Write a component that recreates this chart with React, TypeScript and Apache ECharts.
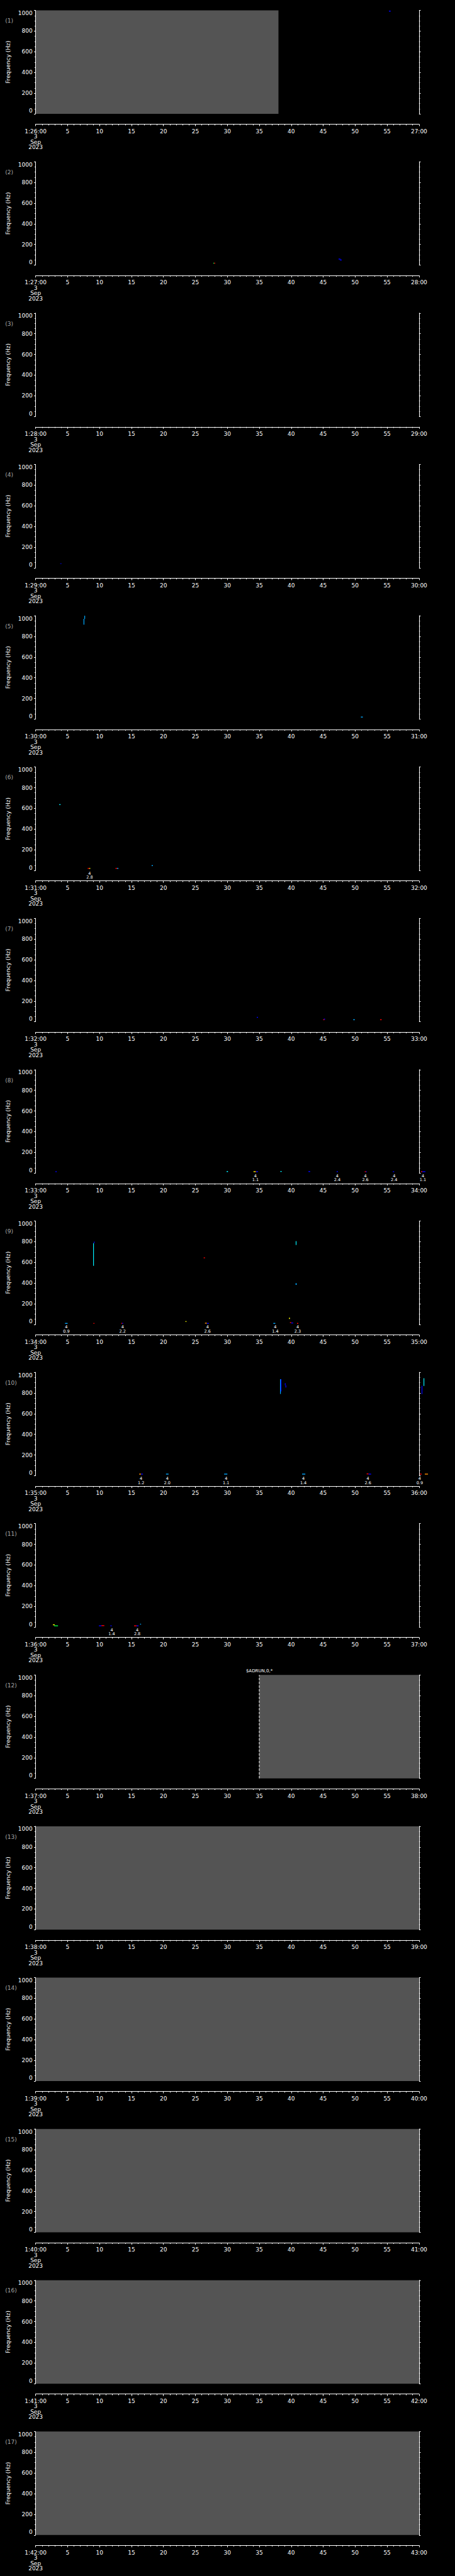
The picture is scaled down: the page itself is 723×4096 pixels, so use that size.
import React, { useEffect, useRef } from "react";
import * as echarts from "echarts";

// ---------- data ----------
const startMinutes = [26, 27, 28, 29, 30, 31, 32, 33, 34, 35, 36, 37, 38, 39, 40, 41, 42];
const dateLines = ["3", "Sep", "2023"];
const freqRange = [0, 1000];
const timeRange = [0, 60];

// grey "no data" areas: [panel, tStart, tEnd]
const greyAreas = [
  [1, 0, 38],
  [12, 35, 60],
  [13, 0, 60],
  [14, 0, 60],
  [15, 0, 60],
  [16, 0, 60],
  [17, 0, 60],
];

// colour codes
const palette: Record<string, string> = {
  B: "#0000ff",
  D: "#0000a0",
  C: "#00a8ff",
  T: "#00f0ff",
  G: "#00ff40",
  Y: "#ffff00",
  O: "#ff9000",
  R: "#ff0000",
};

// spectrogram pixels: [tStart, tEnd, fLow, fHigh, colour]
const marks01 = [[55.3, 55.55, 988, 998, "B"]];
const marks02 = [
  [27.8, 27.95, 15, 23, "G"], [27.95, 28.1, 15, 23, "R"],
  [47.4, 47.7, 55, 63, "B"], [47.6, 47.9, 46, 54, "B"],
];
const marks03: any[] = [];
const marks04 = [[3.85, 4.05, 36, 44, "D"]];
const marks05 = [
  [7.5, 7.62, 914, 969, "C"], [7.62, 7.74, 969, 1000, "C"],
  [50.9, 51.2, 16, 24, "C"],
];
const marks06 = [
  [3.7, 3.9, 633, 641, "T"],
  [8.15, 8.4, 16, 24, "R"], [8.4, 8.55, 16, 24, "Y"],
  [12.5, 12.75, 16, 24, "R"], [12.75, 12.95, 16, 24, "C"],
  [18.15, 18.35, 43, 51, "C"],
];
const marks07 = [
  [34.6, 34.8, 40, 47, "B"],
  [45.0, 45.2, 16, 24, "R"], [45.1, 45.3, 22, 30, "B"],
  [49.7, 49.95, 16, 24, "C"],
  [53.9, 54.15, 16, 24, "R"],
];
const marks08 = [
  [3.1, 3.3, 10, 18, "B"],
  [29.9, 30.1, 10, 20, "T"],
  [34.1, 34.35, 10, 18, "Y"], [34.35, 34.5, 10, 18, "O"], [34.5, 34.8, 10, 18, "B"],
  [38.3, 38.5, 12, 20, "T"],
  [42.7, 42.95, 10, 20, "B"],
  [47.1, 47.3, 10, 18, "B"],
  [51.5, 51.7, 10, 18, "R"], [51.7, 51.8, 10, 18, "B"],
  [55.9, 56.1, 10, 18, "B"],
  [60.3, 60.5, 10, 18, "R"], [60.5, 61.0, 10, 18, "B"],
];
const marks09 = [
  [9.0, 9.1, 567, 785, "T"], [9.1, 9.2, 785, 800, "B"],
  [26.3, 26.5, 640, 648, "R"],
  [40.7, 40.8, 768, 805, "T"],
  [40.68, 40.85, 382, 398, "C"],
  [39.65, 39.8, 52, 64, "Y"],
  [23.45, 23.6, 24, 32, "Y"],
  [4.6, 5.0, 8, 14, "C"],
  [9.05, 9.2, 8, 14, "R"],
  [13.4, 13.55, 8, 14, "R"], [13.55, 13.7, 8, 14, "B"],
  [26.5, 26.8, 10, 16, "O"], [26.8, 27.1, 8, 14, "B"],
  [37.2, 37.5, 8, 14, "C"],
  [39.8, 40.0, 14, 22, "R"], [40.0, 40.3, 12, 18, "B"],
  [40.9, 41.1, 8, 14, "R"],
];
const marks10 = [
  [38.25, 38.35, 791, 934, "C"], [38.35, 38.45, 815, 934, "B"],
  [39.0, 39.1, 875, 895, "B"], [39.1, 39.2, 853, 875, "B"],
  [60.7, 60.8, 868, 943, "T"], [60.4, 60.5, 790, 870, "B"],
  [16.2, 16.5, 14, 20, "O"], [16.5, 16.8, 14, 20, "B"],
  [20.4, 20.8, 14, 20, "C"],
  [29.5, 30.0, 14, 20, "C"],
  [41.7, 42.2, 14, 20, "C"],
  [51.8, 52.1, 14, 22, "R"], [52.1, 52.5, 14, 20, "B"],
  [60.1, 60.4, 14, 20, "R"], [60.9, 61.4, 14, 20, "O"],
];
const marks11 = [
  [2.7, 3.0, 18, 26, "Y"], [2.9, 3.5, 10, 16, "G"],
  [9.9, 10.3, 10, 16, "B"], [10.3, 10.75, 12, 18, "R"],
  [11.7, 11.9, 10, 16, "B"],
  [15.4, 15.8, 10, 16, "R"], [15.8, 16.1, 10, 16, "B"],
  [16.35, 16.5, 24, 32, "C"],
];
const marksByPanel: any[][] = [
  marks01, marks02, marks03, marks04, marks05, marks06, marks07, marks08,
  marks09, marks10, marks11, [], [], [], [], [], [],
];

// event annotations below the plot: [panel, time, line1, line2]
const annotations: [number, number, string, string][] = [
  [6, 8.45, "4", "2.8"],
  [8, 34.4, "4", "1.1"], [8, 47.2, "4", "2.4"], [8, 51.6, "4", "2.6"], [8, 56.1, "4", "2.4"], [8, 60.6, "4", "1.1"],
  [9, 4.8, "4", "0.9"], [9, 13.6, "4", "2.2"], [9, 26.9, "4", "2.6"], [9, 37.5, "4", "1.4"], [9, 41.0, "4", "2.3"],
  [10, 16.5, "4", "1.2"], [10, 20.6, "4", "2.0"], [10, 29.8, "4", "1.1"], [10, 41.9, "4", "1.4"], [10, 52.0, "4", "2.6"], [10, 60.1, "4", "0.9"],
  [11, 11.9, "4", "1.4"], [11, 15.9, "4", "2.8"],
];

// marker line with text: [panel, time, text]
const markers: [number, number, string][] = [[12, 35, "$ADRUN,0,*"]];

// ---------- layout ----------
const S = 0.705;
const W_PX = 723;
const H_PX = 4096;
const PITCH = (5802 / 17) * S;
const GRID_LEFT = 80.3 * S;
const GRID_W = 864.2 * S;
const GRID_TOP0 = 23.5 * S;
const GRID_H = 233.2 * S;
const FONT = "DejaVu Sans";

function buildOption() {
  const grid: any[] = [];
  const xAxis: any[] = [];
  const yAxis: any[] = [];
  const series: any[] = [];
  const graphic: any[] = [];

  startMinutes.forEach((m, i) => {
    const top = GRID_TOP0 + i * PITCH;
    grid.push({
      left: GRID_LEFT,
      top,
      width: GRID_W,
      height: GRID_H,
      containLabel: false,
      outerBoundsMode: "none",
    });
    xAxis.push({
      type: "value",
      gridIndex: i,
      min: timeRange[0],
      max: timeRange[1],
      interval: 5,
      position: "bottom",
      offset: 23.5 * S,
      z: 10,
      axisLine: { show: true, onZero: false, lineStyle: { color: "#ffffff", width: 1 } },
      axisTick: { show: true, length: 3, lineStyle: { color: "#ffffff", width: 1 } },
      minorTick: { show: true, splitNumber: 5, length: 1.8, lineStyle: { color: "#ffffff", width: 1 } },
      splitLine: { show: false },
      minorSplitLine: { show: false },
      axisLabel: {
        color: "#ffffff",
        fontSize: 9,
        fontFamily: FONT,
        margin: 7,
        lineHeight: 8.5,
        formatter: (v: number) => {
          if (v === 0) return `1:${m}:00\n${dateLines.join("\n")}`;
          if (v === 60) return `${m + 1}:00`;
          return String(v);
        },
      },
    });
    const yCommon = {
      type: "value",
      gridIndex: i,
      min: freqRange[0],
      max: freqRange[1],
      interval: 200,
      z: 10,
      axisLine: { show: true, onZero: false, lineStyle: { color: "#ffffff", width: 1 } },
      axisTick: { show: true, length: 2.6, lineStyle: { color: "#ffffff", width: 1 } },
      minorTick: { show: true, splitNumber: 4, length: 1.6, lineStyle: { color: "#ffffff", width: 1 } },
      splitLine: { show: false },
      minorSplitLine: { show: false },
    };
    yAxis.push({
      ...yCommon,
      position: "left",
      name: "Frequency (Hz)",
      nameLocation: "middle",
      nameRotate: 90,
      nameGap: 35,
      nameTextStyle: { color: "#ffffff", fontSize: 9, fontFamily: FONT },
      axisLabel: {
        color: "#ffffff",
        fontSize: 9,
        fontFamily: FONT,
        margin: 5,
        formatter: (v: number) => String(v),
        verticalAlignMinLabel: "bottom",
        verticalAlignMaxLabel: "top",
      },
    });
    yAxis.push({
      ...yCommon,
      position: "right",
      axisLabel: { show: false },
    });

    const xi = i;
    const yi = i * 2;

    // grey areas
    const greys = greyAreas.filter((g) => g[0] === i + 1).map((g) => [g[1], g[2]]);
    series.push({
      type: "custom",
      xAxisIndex: xi,
      yAxisIndex: yi,
      z: 1,
      silent: true,
      data: greys,
      renderItem: (params: any, api: any) => {
        const p0 = api.coord([api.value(0), freqRange[1]]);
        const p1 = api.coord([api.value(1), freqRange[0]]);
        return {
          type: "rect",
          shape: { x: p0[0], y: p0[1], width: p1[0] - p0[0], height: p1[1] - p0[1] },
          style: { fill: "#545454" },
        };
      },
    });

    // spectrogram marks
    const mk = marksByPanel[i];
    series.push({
      type: "custom",
      xAxisIndex: xi,
      yAxisIndex: yi,
      z: 3,
      silent: true,
      clip: false,
      data: mk.map((d) => [d[0], d[1], d[2], d[3]]),
      renderItem: (params: any, api: any) => {
        const d = mk[params.dataIndex];
        const p0 = api.coord([api.value(0), api.value(3)]);
        const p1 = api.coord([api.value(1), api.value(2)]);
        const w = Math.max(Math.abs(p1[0] - p0[0]), 1.2);
        const h = Math.max(Math.abs(p1[1] - p0[1]), 1.4);
        return {
          type: "rect",
          shape: { x: Math.min(p0[0], p1[0]), y: Math.min(p0[1], p1[1]), width: w, height: h },
          style: { fill: palette[d[4]] },
        };
      },
    });

    // annotations
    const ann = annotations.filter((a) => a[0] === i + 1);
    if (ann.length) {
      series.push({
        type: "custom",
        xAxisIndex: xi,
        yAxisIndex: yi,
        z: 4,
        silent: true,
        clip: false,
        data: ann.map((a) => [a[1], freqRange[0]]),
        renderItem: (params: any, api: any) => {
          const a = ann[params.dataIndex];
          const p = api.coord([api.value(0), api.value(1)]);
          const st = { fill: "#ffffff", fontSize: 6.5, fontFamily: FONT, align: "center", verticalAlign: "middle" };
          return {
            type: "group",
            children: [
              { type: "text", x: p[0], y: p[1] + 4.6, style: { ...st, text: a[2] } },
              { type: "text", x: p[0], y: p[1] + 11.1, style: { ...st, text: a[3] } },
            ],
          };
        },
      });
    }

    // marker lines
    const mks = markers.filter((a) => a[0] === i + 1);
    if (mks.length) {
      series.push({
        type: "custom",
        xAxisIndex: xi,
        yAxisIndex: yi,
        z: 5,
        silent: true,
        clip: false,
        data: mks.map((a) => [a[1]]),
        renderItem: (params: any, api: any) => {
          const a = mks[params.dataIndex];
          const pb = api.coord([api.value(0), freqRange[0]]);
          const pt = api.coord([api.value(0), freqRange[1]]);
          return {
            type: "group",
            children: [
              {
                type: "line",
                shape: { x1: pb[0], y1: pb[1], x2: pt[0], y2: pt[1] },
                style: { stroke: "#ffffff", lineWidth: 1, lineDash: [4, 2] },
              },
              {
                type: "text",
                x: pt[0],
                y: pt[1] - 6,
                style: { text: a[2], fill: "#ffffff", fontSize: 7, fontFamily: FONT, align: "center", verticalAlign: "middle" },
              },
            ],
          };
        },
      });
    }

    graphic.push({
      type: "text",
      x: 8.3,
      y: top + 23.7 * S,
      silent: true,
      style: {
        text: `(${i + 1})`,
        fill: "#a8a8a8",
        fontSize: 9,
        fontFamily: FONT,
        align: "left",
        verticalAlign: "middle",
      },
    });
  });

  return {
    animation: false,
    backgroundColor: "#000000",
    grid,
    xAxis,
    yAxis,
    series,
    graphic,
  };
}

export default function App() {
  const ref = useRef<HTMLDivElement>(null);
  useEffect(() => {
    document.body.style.margin = "0";
    document.body.style.background = "#000";
    if (!ref.current) return;
    const chart = echarts.init(ref.current, undefined, { renderer: "svg" });
    chart.setOption(buildOption() as any);
    return () => chart.dispose();
  }, []);
  return <div ref={ref} style={{ width: W_PX, height: H_PX, background: "#000" }} />;
}
